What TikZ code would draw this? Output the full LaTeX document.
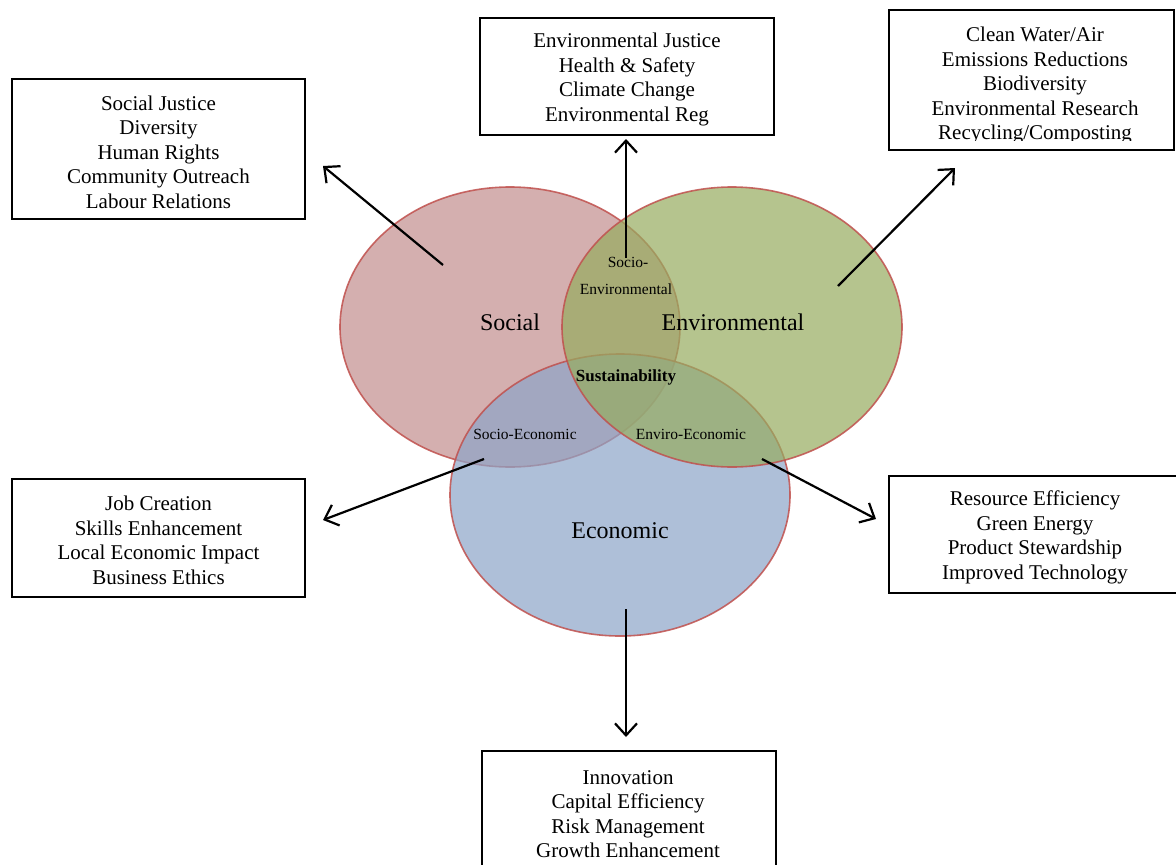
\documentclass[tikz,border=0pt]{standalone}
\usepackage{fontspec}
\setmainfont{Liberation Serif}
\usetikzlibrary{arrows.meta,shapes.geometric}
\definecolor{socfill}{HTML}{C28E8E}
\definecolor{envfill}{HTML}{96AC5F}
\definecolor{ecofill}{HTML}{8DA5C8}
\definecolor{vennline}{HTML}{C0504D}
\begin{document}
\begin{tikzpicture}[x=1pt,y=-1pt,
  venn/.style={ellipse, draw=vennline, line width=1.6pt, draw opacity=0.85, fill opacity=0.7, inner sep=0pt, minimum width=340pt, minimum height=280pt},
  bigtxt/.style={font=\fontsize{24}{28}\selectfont, inner sep=0pt},
  smalltxt/.style={font=\fontsize{15.5}{18}\selectfont, inner sep=0pt},
  box/.style={draw=black, line width=1.4pt, align=center, inner sep=0pt, font=\fontsize{21}{24.5}\selectfont},
  boxtxt/.style={align=center, inner sep=0pt, font=\fontsize{21}{24.5}\selectfont},
  arr/.style={line width=2.2pt, -{Straight Barb[length=12pt,width=22pt,line width=2.2pt]}}
]
\useasboundingbox (0,0) rectangle (1176,865);
\fill[white] (0,0) rectangle (1176,865);

% Venn ellipses
\node[venn, fill=socfill] (soc) at (510,327) {};
\node[venn, fill=ecofill, minimum height=282pt] (eco) at (620,495) {};
\node[venn, fill=envfill] (env) at (732,327) {};

% Labels
\node[bigtxt] (lsoc) at (510,322) {Social};
\node[bigtxt] (lenv) at (733,322) {Environmental};
\node[bigtxt] (leco) at (620,531) {Economic};
\node[smalltxt] (lse1) at (628,262) {Socio-};
\node[smalltxt] (lse2) at (626,289) {Environmental};
\node[smalltxt, font=\fontsize{17}{20}\selectfont\bfseries] (lsus) at (626,377) {Sustainability};
\node[smalltxt] (lsec) at (525,434) {Socio-Economic};
\node[smalltxt] (leec) at (691,434) {Enviro-Economic};

% Boxes
\node[box, minimum width=293pt, minimum height=140pt] (b1) at (158.5,149) {};
\node[boxtxt] (t1) at (158.5,152)
  {Social Justice\\Diversity\\Human Rights\\Community Outreach\\Labour Relations};
\node[box, minimum width=294pt, minimum height=117pt] (b2) at (627,76.5) {};
\node[boxtxt] (t2) at (627,79.5)
  {Environmental Justice\\Health \& Safety\\Climate Change\\Environmental Reg};
\node[box, minimum width=285pt, minimum height=140pt] (b3) at (1031.5,80) {};
\begin{scope}
  \clip (889,0) rectangle (1176,140.5);
  \node[boxtxt] (t3) at (1035,85.5)
    {Clean Water/Air\\Emissions Reductions\\Biodiversity\\Environmental Research\\Recycling/Composting};
\end{scope}
\node[box, minimum width=293pt, minimum height=118pt] (b4) at (158.5,538) {};
\node[boxtxt] (t4) at (158.5,540.5)
  {Job Creation\\Skills Enhancement\\Local Economic Impact\\Business Ethics};
\node[box, minimum width=292pt, minimum height=117pt] (b5) at (1035,534.5) {};
\node[boxtxt] (t5) at (1035,537.5)
  {Resource Efficiency\\Green Energy\\Product Stewardship\\Improved Technology};
\node[box, minimum width=294pt, minimum height=130pt] (b6) at (629,816) {};
\node[boxtxt] (t6) at (628,814)
  {Innovation\\Capital Efficiency\\Risk Management\\Growth Enhancement};

% Arrow coordinates
\coordinate (s1) at (443,265); \coordinate (e1) at (323,166);
\coordinate (s2) at (626,258); \coordinate (e2) at (626,139);
\coordinate (s3) at (838,286); \coordinate (e3) at (955,168);
\coordinate (s4) at (484,459); \coordinate (e4) at (323,520);
\coordinate (s5) at (762,459); \coordinate (e5) at (876,519);
\coordinate (s6) at (626,609); \coordinate (e6) at (626,737);

\draw[arr] (s1) -- (e1);
\draw[arr] (s2) -- (e2);
\draw[arr] (s3) -- (e3);
\draw[arr] (s4) -- (e4);
\draw[arr] (s5) -- (e5);
\draw[arr] (s6) -- (e6);
\end{tikzpicture}
\end{document}
